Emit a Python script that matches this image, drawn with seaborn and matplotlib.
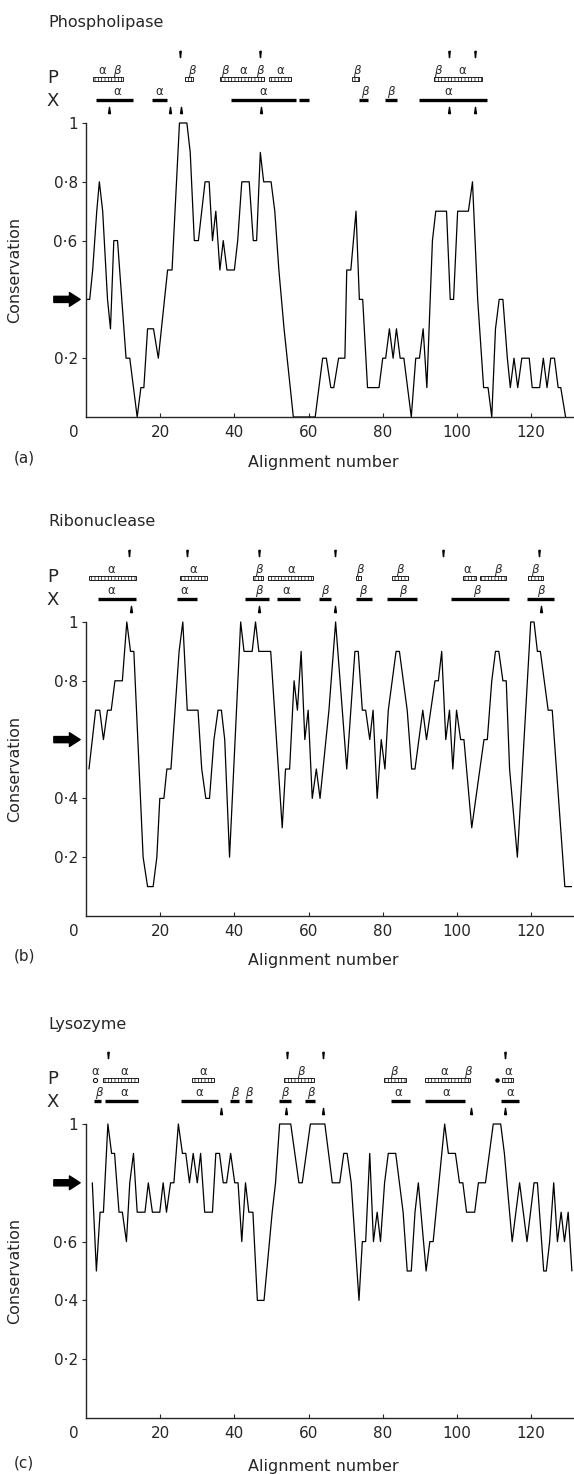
#!/usr/bin/env python3
"""Conservation along the alignment for three protein families, with P/X structure strips."""
import matplotlib
matplotlib.use("Agg")
import matplotlib.pyplot as plt
from matplotlib.patches import Rectangle
import pandas as pd
import seaborn as sns

# ---- conservation traces: (alignment number, conservation) at each vertex ----
PL_TRACE = [(0.3, 0.4), (1.0, 0.4), (1.8, 0.5), (2.9, 0.7), (3.6, 0.8), (4.5, 0.7), (5.8, 0.4),
            (6.6, 0.3), (7.5, 0.6), (8.5, 0.6), (10.8, 0.2), (11.8, 0.2), (13.8, 0.0), (14.8, 0.1),
            (15.6, 0.1), (16.6, 0.3), (18.2, 0.3), (19.5, 0.2), (22.0, 0.5), (23.2, 0.5), (25.2, 1.0),
            (27.2, 1.0), (28.1, 0.9), (29.2, 0.6), (30.3, 0.6), (32.1, 0.8), (33.2, 0.8), (34.1, 0.6),
            (35.0, 0.7), (36.1, 0.5), (37.0, 0.6), (38.0, 0.5), (40.0, 0.5), (40.9, 0.6), (42.0, 0.8),
            (44.0, 0.8), (45.1, 0.6), (46.0, 0.6), (47.0, 0.9), (47.9, 0.8), (49.9, 0.8), (50.9, 0.7),
            (52.0, 0.5), (53.4, 0.3), (55.9, 0.0), (61.8, 0.0), (63.8, 0.2), (64.8, 0.2), (66.0, 0.1),
            (66.8, 0.1), (68.1, 0.2), (69.8, 0.2), (70.3, 0.5), (71.4, 0.5), (72.8, 0.7), (73.7, 0.4),
            (74.6, 0.4), (75.9, 0.1), (79.0, 0.1), (80.0, 0.2), (80.8, 0.2), (81.8, 0.3), (82.8, 0.2),
            (83.7, 0.3), (84.7, 0.2), (85.7, 0.2), (87.7, 0.0), (88.9, 0.2), (89.9, 0.2), (90.9, 0.3),
            (91.9, 0.1), (93.4, 0.6), (94.3, 0.7), (97.2, 0.7), (98.2, 0.4), (99.1, 0.4), (100.2, 0.7),
            (103.1, 0.7), (104.2, 0.8), (105.6, 0.4), (107.2, 0.1), (108.4, 0.1), (109.4, 0.0),
            (110.4, 0.3), (111.4, 0.4), (112.4, 0.4), (113.6, 0.2), (114.4, 0.1), (115.4, 0.2),
            (116.4, 0.1), (117.5, 0.2), (119.5, 0.2), (120.3, 0.1), (122.3, 0.1), (123.3, 0.2),
            (124.3, 0.1), (125.3, 0.2), (126.3, 0.2), (127.3, 0.1), (128.0, 0.1), (129.3, 0.0)]

RN_TRACE = [(0.8, 0.5), (2.6, 0.7), (3.7, 0.7), (4.7, 0.6), (5.8, 0.7), (6.8, 0.7), (7.8, 0.8),
            (9.8, 0.8), (11.0, 1.0), (12.0, 0.9), (12.9, 0.9), (15.4, 0.2), (16.6, 0.1), (18.1, 0.1),
            (19.1, 0.2), (19.9, 0.4), (21.0, 0.4), (21.8, 0.5), (22.9, 0.5), (25.1, 0.9), (26.1, 1.0),
            (27.3, 0.7), (30.2, 0.7), (31.2, 0.5), (32.3, 0.4), (33.3, 0.4), (34.5, 0.6), (35.6, 0.7),
            (36.5, 0.7), (37.4, 0.6), (38.7, 0.2), (41.7, 1.0), (42.6, 0.9), (44.8, 0.9), (45.7, 1.0),
            (46.6, 0.9), (49.8, 0.9), (52.9, 0.3), (53.8, 0.5), (54.9, 0.5), (56.1, 0.8), (57.0, 0.7),
            (58.0, 0.9), (59.0, 0.6), (59.9, 0.7), (61.0, 0.4), (62.1, 0.5), (63.1, 0.4), (65.5, 0.7),
            (67.3, 1.0), (70.3, 0.5), (72.5, 0.9), (73.4, 0.9), (74.5, 0.7), (75.4, 0.7), (76.5, 0.6),
            (77.4, 0.7), (78.5, 0.4), (79.6, 0.6), (80.6, 0.5), (81.5, 0.7), (83.6, 0.9), (84.5, 0.9),
            (86.6, 0.7), (87.8, 0.5), (88.7, 0.5), (90.8, 0.7), (91.8, 0.6), (94.1, 0.8), (95.0, 0.8),
            (95.9, 0.9), (97.0, 0.6), (98.0, 0.7), (98.9, 0.5), (99.9, 0.7), (101.0, 0.6), (101.9, 0.6),
            (104.0, 0.3), (107.3, 0.6), (108.2, 0.6), (109.4, 0.8), (110.4, 0.9), (111.3, 0.9),
            (112.4, 0.8), (113.3, 0.8), (114.2, 0.5), (116.3, 0.2), (119.9, 1.0), (120.8, 1.0),
            (121.7, 0.9), (122.5, 0.9), (124.6, 0.7), (125.7, 0.7), (129.1, 0.1), (130.9, 0.1)]

LY_TRACE = [(1.7, 0.8), (2.8, 0.5), (3.8, 0.7), (4.7, 0.7), (5.9, 1.0), (6.9, 0.9), (7.7, 0.9),
            (8.9, 0.7), (9.8, 0.7), (10.9, 0.6), (11.8, 0.8), (12.8, 0.9), (13.8, 0.7), (15.9, 0.7),
            (16.8, 0.8), (17.9, 0.7), (19.9, 0.7), (20.8, 0.8), (21.7, 0.7), (22.8, 0.8), (23.7, 0.8),
            (24.9, 1.0), (26.0, 0.9), (26.9, 0.9), (27.9, 0.8), (28.9, 0.9), (30.0, 0.8), (30.9, 0.9),
            (32.0, 0.7), (34.1, 0.7), (35.0, 0.9), (36.0, 0.9), (37.0, 0.8), (37.9, 0.8), (39.0, 0.9),
            (40.1, 0.8), (41.0, 0.8), (42.0, 0.6), (43.0, 0.8), (43.9, 0.7), (45.0, 0.7), (46.2, 0.4),
            (48.0, 0.4), (50.2, 0.7), (51.1, 0.8), (52.2, 1.0), (55.2, 1.0), (57.4, 0.8), (58.3, 0.8),
            (60.5, 1.0), (64.4, 1.0), (66.4, 0.8), (68.4, 0.8), (69.5, 0.9), (70.4, 0.9), (71.5, 0.8),
            (73.6, 0.4), (74.5, 0.6), (75.4, 0.6), (76.5, 0.9), (77.5, 0.6), (78.5, 0.7), (79.4, 0.6),
            (80.5, 0.8), (81.5, 0.9), (83.5, 0.9), (84.5, 0.8), (85.5, 0.7), (86.6, 0.5), (87.7, 0.5),
            (88.7, 0.7), (89.6, 0.8), (91.7, 0.5), (92.7, 0.6), (93.6, 0.6), (96.7, 1.0), (97.7, 0.9),
            (99.6, 0.9), (100.7, 0.8), (101.6, 0.8), (102.6, 0.7), (104.8, 0.7), (105.8, 0.8),
            (107.7, 0.8), (109.8, 1.0), (111.8, 1.0), (112.8, 0.9), (114.9, 0.6), (116.9, 0.8),
            (118.9, 0.6), (120.8, 0.8), (121.7, 0.8), (123.4, 0.5), (124.1, 0.5), (125.0, 0.6),
            (126.1, 0.8), (127.1, 0.6), (128.1, 0.7), (129.0, 0.6), (130.0, 0.7), (131.0, 0.5)]

# ---- structure strips (alignment numbers) ----
PL_P_BARS = [(1.9, 10.1), (26.6, 28.8), (36.1, 47.9), (49.4, 55.4), (71.7, 73.7), (93.7, 106.9)]
PL_P_LABELS = [(4.3, "α"), (8.3, "β"), (28.4, "β"), (37.5, "β"), (42.5, "α"), (46.8, "β"),
               (52.4, "α"), (73.0, "β"), (94.8, "β"), (101.5, "α")]
PL_P_TICKS = [25.4, 47.0, 97.8, 104.9]
PL_X_BARS = [(2.7, 12.8), (17.7, 21.9), (39.0, 56.6), (57.5, 60.1), (73.7, 76.0), (80.6, 83.8),
             (89.8, 108.1)]
PL_X_LABELS = [(8.3, "α"), (19.7, "α"), (47.7, "α"), (75.2, "β"), (82.1, "β"), (97.8, "α")]
PL_X_MARKS = [6.1, 22.7, 25.6, 47.1, 97.8, 104.9]

RN_P_BARS = [(0.8, 13.4), (25.3, 32.7), (45.1, 47.7), (49.2, 61.1), (72.9, 74.2), (82.6, 86.7),
             (101.6, 105.2), (106.2, 113.3), (119.2, 123.2)]
RN_P_LABELS = [(6.8, "α"), (28.9, "α"), (46.7, "β"), (55.3, "α"), (73.7, "β"), (84.6, "β"),
               (102.9, "α"), (111.0, "β"), (121.0, "β")]
RN_P_TICKS = [11.7, 27.1, 46.6, 67.2, 96.2, 122.0]
RN_X_BARS = [(3.3, 13.5), (24.4, 29.9), (42.9, 49.4), (51.6, 57.6), (62.8, 66.0), (72.7, 77.1),
             (81.1, 89.3), (98.4, 114.1), (118.8, 126.2)]
RN_X_LABELS = [(6.8, "α"), (26.6, "α"), (46.6, "β"), (54.1, "α"), (64.3, "β"), (74.7, "β"),
               (85.3, "β"), (105.4, "β"), (122.7, "β")]
RN_X_MARKS = [12.0, 46.6, 67.0, 122.7]

LY_P_BARS = [(4.5, 14.0), (28.6, 34.5), (53.5, 61.6), (80.4, 86.4), (91.3, 103.4), (112.1, 115.1)]
LY_P_OPEN = [2.5]
LY_P_DOTS = [110.8]
LY_P_LABELS = [(2.5, "α"), (10.2, "α"), (31.5, "α"), (57.8, "β"), (83.1, "β"), (96.5, "α"),
               (102.9, "β"), (113.8, "α")]
LY_P_TICKS = [5.8, 54.3, 63.8, 113.1]
LY_X_BARS = [(2.1, 4.1), (5.1, 14.0), (25.6, 35.5), (38.8, 41.2), (42.9, 44.7), (52.0, 55.3),
             (59.0, 61.8), (82.1, 87.3), (91.5, 102.2), (111.8, 116.8)]
LY_X_LABELS = [(3.5, "β"), (10.2, "α"), (30.6, "α"), (40.2, "β"), (43.9, "β"), (53.6, "β"),
               (60.5, "β"), (84.1, "α"), (97.0, "α"), (114.3, "α")]
LY_X_MARKS = [36.5, 54.0, 63.8, 103.9, 113.1]

# reference level marked by the arrow, and labelled y ticks
PL_REF, RN_REF, LY_REF = 0.4, 0.6, 0.8
PL_YTICKS = [0.2, 0.6, 0.8, 1.0]
RN_YTICKS = [0.2, 0.4, 0.8, 1.0]
LY_YTICKS = [0.2, 0.4, 0.6, 1.0]
XTICKS = [20, 40, 60, 80, 100, 120]

FIG_W, FIG_H = 574, 1474
AX_L, AX_R, AX_H = 86, 573, 294
XMAX = 131.3

WEDGE_DOWN = [(-0.22, 1), (0.22, 1), (0, -1), (-0.22, 1)]
WEDGE_UP = [(-0.3, -1), (0.3, -1), (0, 1), (-0.3, -1)]


def fy(py):
    return 1 - py / FIG_H


def above(d):
    # axes-fraction y that sits d pixels above the top of the plot
    return 1 + d / AX_H


def greek(ax, x, y, s, tr):
    ax.text(x, y, s, transform=tr, ha="center", va="baseline", fontsize=8.5,
            style="italic" if s == "β" else "normal")


def draw_structure(ax, p_bars, p_labels, p_ticks, x_bars, x_labels, x_marks, p_open=(), p_dots=()):
    tr = ax.get_xaxis_transform()
    for x0, x1 in p_bars:
        ax.add_patch(Rectangle((x0, above(42)), x1 - x0, 4 / AX_H, transform=tr, clip_on=False,
                               facecolor="white", edgecolor="black", lw=0.6, hatch="|||||"))
    for x in p_open:
        ax.plot([x], [above(44)], marker="o", ms=3, mfc="white", mec="black", mew=0.7,
                transform=tr, clip_on=False)
    for x in p_dots:
        ax.plot([x], [above(44)], marker="o", ms=2.2, color="black", transform=tr, clip_on=False)
    for x, s in p_labels:
        greek(ax, x, above(49), s, tr)
    for x in p_ticks:
        ax.plot([x], [above(69)], marker=WEDGE_DOWN, ms=4.5, color="black", ls="none",
                transform=tr, clip_on=False)
    for x0, x1 in x_bars:
        ax.plot([x0, x1], [above(23), above(23)], color="black", lw=2.4, solid_capstyle="butt",
                transform=tr, clip_on=False)
    for x, s in x_labels:
        greek(ax, x, above(28), s, tr)
    for x in x_marks:
        ax.plot([x], [above(13)], marker=WEDGE_UP, ms=4.5, color="black", ls="none",
                transform=tr, clip_on=False)
    ax.text(-0.068, above(45), "P", transform=ax.transAxes, ha="center", va="center", fontsize=13)
    ax.text(-0.068, above(22), "X", transform=ax.transAxes, ha="center", va="center", fontsize=13)


def draw_panel(fig, top_px, trace, ref, yticks, title, tag, title_py, tag_py):
    bottom_px = top_px + AX_H
    ax = fig.add_axes([AX_L / FIG_W, fy(bottom_px), (AX_R - AX_L) / FIG_W, AX_H / FIG_H])
    df = pd.DataFrame(trace, columns=["Alignment number", "Conservation"])
    sns.lineplot(data=df, x="Alignment number", y="Conservation", ax=ax, color="black",
                 linewidth=0.9, estimator=None, sort=False)
    for line in ax.lines:
        line.set_clip_on(False)
    ax.set_xlim(0, XMAX)
    ax.set_ylim(0, 1)
    ax.set_xlabel("")
    ax.set_ylabel("")
    ax.spines[["top", "right"]].set_visible(False)
    for side in ["left", "bottom"]:
        ax.spines[side].set_linewidth(1.0)
    ax.set_xticks(XTICKS)
    ax.set_xticklabels([str(v) for v in XTICKS])
    ax.set_yticks(yticks)
    ax.set_yticklabels(["1" if v == 1 else f"0\u00b7{int(round(v * 10))}" for v in yticks])
    ax.tick_params(axis="x", direction="in", length=3, width=0.8, pad=6, labelsize=11)
    ax.tick_params(axis="y", direction="out", length=3, width=0.8, pad=3, labelsize=11)
    ax.text(-3.2, -8.3 / AX_H, "0", transform=ax.get_xaxis_transform(), ha="center", va="top",
            fontsize=11)

    ax.annotate("", xy=(-0.012, ref), xycoords=ax.get_yaxis_transform(),
                xytext=(-0.066, ref), textcoords=ax.get_yaxis_transform(),
                arrowprops=dict(arrowstyle="simple,head_width=0.9,head_length=0.7,tail_width=0.4",
                                color="black", shrinkA=0, shrinkB=0, mutation_scale=11))

    fig.text(48 / FIG_W, fy(title_py), title, ha="left", va="center", fontsize=11.5)
    fig.text(15 / FIG_W, fy(top_px + AX_H / 2), "Conservation", rotation=90,
             ha="center", va="center", fontsize=11.5)
    fig.text(14 / FIG_W, fy(tag_py), tag, ha="left", va="center", fontsize=11)
    fig.text(323 / FIG_W, fy(tag_py + 4), "Alignment number", ha="center", va="center",
             fontsize=11.5)
    return ax


def main():
    sns.set_style("ticks")
    plt.rcParams["font.family"] = ["DejaVu Sans"]
    plt.rcParams["hatch.linewidth"] = 0.5

    fig = plt.figure(figsize=(FIG_W / 100, FIG_H / 100), dpi=100)

    ax_a = draw_panel(fig, 123, PL_TRACE, PL_REF, PL_YTICKS, "Phospholipase", "(a)", 22, 458)
    draw_structure(ax_a, PL_P_BARS, PL_P_LABELS, PL_P_TICKS, PL_X_BARS, PL_X_LABELS, PL_X_MARKS)

    ax_b = draw_panel(fig, 622, RN_TRACE, RN_REF, RN_YTICKS, "Ribonuclease", "(b)", 521, 956)
    draw_structure(ax_b, RN_P_BARS, RN_P_LABELS, RN_P_TICKS, RN_X_BARS, RN_X_LABELS, RN_X_MARKS)

    ax_c = draw_panel(fig, 1124, LY_TRACE, LY_REF, LY_YTICKS, "Lysozyme", "(c)", 1024, 1463)
    draw_structure(ax_c, LY_P_BARS, LY_P_LABELS, LY_P_TICKS, LY_X_BARS, LY_X_LABELS, LY_X_MARKS,
                   p_open=LY_P_OPEN, p_dots=LY_P_DOTS)

    fig.savefig("out.png", dpi=100)
    plt.close(fig)


if __name__ == "__main__":
    main()
